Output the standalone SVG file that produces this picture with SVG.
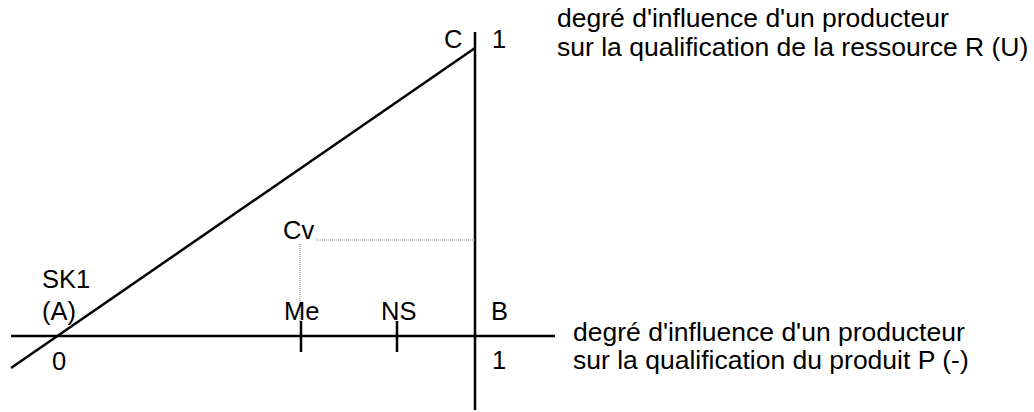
<svg xmlns="http://www.w3.org/2000/svg" width="1034" height="412" viewBox="0 0 1034 412">
<style>
text{font-family:"Liberation Sans",Arial,sans-serif;font-size:25.5px;fill:#000}
text.big{font-size:26.5px}
.ax{stroke:#000;stroke-width:2.5;fill:none}
.dot{stroke:#888;stroke-width:1;stroke-dasharray:1 1;fill:none}
</style>
<rect width="1034" height="412" fill="#fff"/>
<g id="connectors">
<line class="ax" x1="475" y1="32" x2="475" y2="410"/>
<line class="ax" x1="11" y1="336" x2="555" y2="336"/>
<line class="ax" x1="11" y1="368" x2="475" y2="48"/>
<line class="ax" x1="301" y1="321" x2="301" y2="352"/>
<line class="ax" x1="397" y1="321" x2="397" y2="352"/>
<line class="dot" x1="316" y1="240" x2="475" y2="240"/>
<line class="dot" x1="300" y1="244" x2="300" y2="321"/>
</g>
<g id="labels">
<text x="444" y="48">C</text>
<text x="492" y="48">1</text>
<text class="big" x="557" y="27">degré d'influence d'un producteur</text>
<text class="big" x="557" y="56">sur la qualification de la ressource R (U)</text>
<text x="283" y="239">Cv</text>
<text x="42" y="288">SK1</text>
<text x="42" y="320">(A)</text>
<text x="52" y="370">0</text>
<text x="284" y="320">Me</text>
<text x="381" y="320">NS</text>
<text x="491" y="320">B</text>
<text x="492" y="369">1</text>
<text class="big" x="573" y="341">degré d'influence d'un producteur</text>
<text class="big" x="573" y="369">sur la qualification du produit P (-)</text>
</g>
</svg>
